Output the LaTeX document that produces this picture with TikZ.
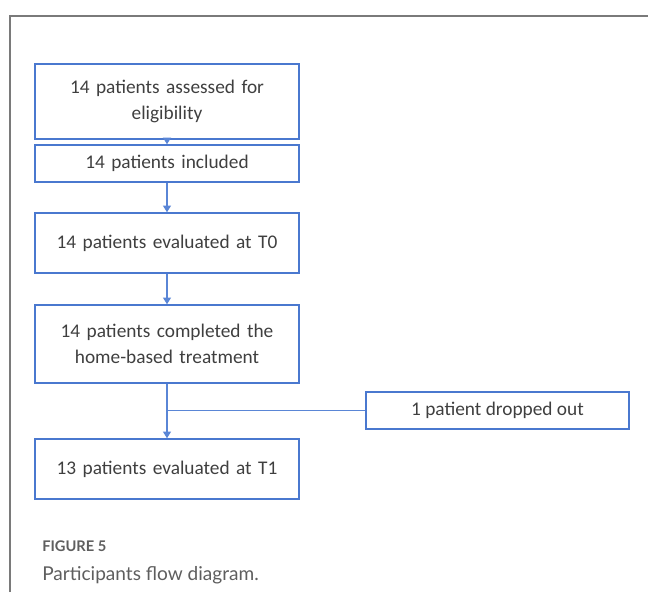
\documentclass[tikz,border=0pt]{standalone}
\usepackage{fontspec}
\setmainfont{Carlito}
\newfontfamily\captionfont{Lato}
\usetikzlibrary{arrows.meta}
\definecolor{boxblue}{HTML}{4A78CF}
\definecolor{lineblue}{HTML}{5A86D6}
\definecolor{boxtext}{HTML}{3F3F3F}
\definecolor{framegray}{HTML}{7A7A7A}
\definecolor{capgray}{HTML}{5E5E5E}
\newlength{\pxunit}
\setlength{\pxunit}{0.75pt}
\tikzset{
	flownode/.style = {
		align=center,
		inner sep=0pt,
		text centered,
		font=\fontsize{14.5}{19.5}\selectfont,
		text=boxtext,
		rectangle,
		draw=boxblue,
		line width=1.1pt,
		minimum width=264\pxunit,
		anchor=center
	},
	node_step/.style = {
		flownode,
		text width=250\pxunit
	},
	node_drop/.style = {
		flownode,
		minimum width=263\pxunit,
		minimum height=37\pxunit
	},
	flowline/.style = {
		draw=lineblue,
		line width=0.8pt
	},
	flowarrow/.style = {
		flowline,
		-{Triangle[width=6pt,length=5pt]}
	},
}

\begin{document}
\begin{tikzpicture}[x=0.75pt,y=-0.75pt]
\useasboundingbox (0,0) rectangle (648,592);
% frame
\draw [framegray, line width=1.2pt] (10,592) -- (10,16) -- (648,16);
% boxes
\node [node_step, minimum height=75\pxunit] (assessed) at (167,101.5) {14 patients assessed for\\eligibility};
\node [node_step, minimum height=37\pxunit] (included) at (167,163.5) {14 patients included};
\node [node_step, minimum height=60\pxunit] (evalzero) at (167,243) {14 patients evaluated at T0};
\node [node_step, minimum height=78\pxunit] (completed) at (167,344) {14 patients completed the\\home-based treatment};
\node [node_step, minimum height=60\pxunit] (evalone) at (167,469) {13 patients evaluated at T1};
\node [node_drop] (dropped) at (497.5,410.5) {1 patient dropped out};
% connectors
\draw [flowarrow] (assessed) -- (included);
\draw [flowarrow] (included) -- (evalzero);
\draw [flowarrow] (evalzero) -- (completed);
\draw [flowarrow] (completed) -- (evalone);
\draw [flowline] (dropped.west) -- (completed.south |- dropped.west);
% caption
\node [anchor=base west, inner sep=0pt, text=capgray, font=\captionfont\bfseries\fontsize{11}{13}\selectfont] (figlabel) at (42,551.5) {FIGURE 5};
\node [anchor=base west, inner sep=0pt, text=capgray, font=\captionfont\fontsize{14.3}{18}\selectfont] (figcaption) at (42,580.5) {Participants flow diagram.};
\end{tikzpicture}
\end{document}
